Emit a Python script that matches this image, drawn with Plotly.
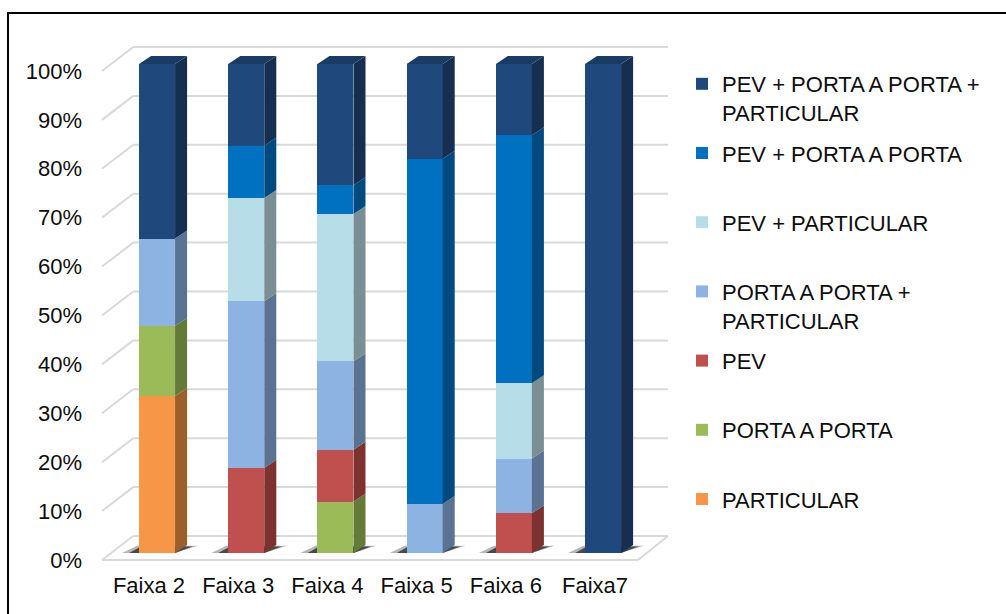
import plotly.graph_objects as go

# ---- data (percent of each band) ----
categories = ["Faixa 2", "Faixa 3", "Faixa 4", "Faixa 5", "Faixa 6", "Faixa7"]

particular = [32.1, 0, 0, 0, 0, 0]
porta_a_porta = [14.3, 0, 10.5, 0, 0, 0]
pev = [0, 17.4, 10.6, 0, 8.1, 0]
porta_particular = [17.9, 34.1, 18.1, 10.0, 11.2, 0]
pev_particular = [0, 21.1, 30.1, 0, 15.4, 0]
pev_porta = [0, 10.7, 5.9, 70.6, 50.7, 0]
pev_porta_particular = [35.7, 16.7, 24.8, 19.4, 14.6, 100]

y_ticks = [0, 10, 20, 30, 40, 50, 60, 70, 80, 90, 100]

# stacking order, bottom to top: (legend name, values, front colour, side colour)
series = [
    ("PARTICULAR", particular, "#F79646", "#9C5E2A"),
    ("PORTA A PORTA", porta_a_porta, "#9BBB59", "#647A38"),
    ("PEV", pev, "#C0504D", "#7D3230"),
    ("PORTA A PORTA +<br>PARTICULAR", porta_particular, "#8DB3E2", "#5A7393"),
    ("PEV + PARTICULAR", pev_particular, "#B7DEE8", "#7A8F94"),
    ("PEV + PORTA A PORTA", pev_porta, "#0070C0", "#004A80"),
    ("PEV + PORTA A PORTA +<br>PARTICULAR", pev_porta_particular, "#1F497D", "#162F51"),
]
TOP_FACE = "#1A3B63"

# ---- 3-D look parameters (axis units) ----
BAR_SHIFT = 0.09      # bars sit a little behind the front plane
BAR_W = 0.404         # width of the front face
DX, DY = 0.135, 1.64  # depth of each column (side/top faces)
WALL_DX, WALL_DY = 0.35, 4.9   # depth of the wall / floor
FRONT_DY = -1.43      # front plane sits slightly below the bar base
X_LEFT, X_RIGHT_BACK, X_RIGHT_FRONT = -0.527, 5.818, 5.482

FONT = "Liberation Sans, Arial, sans-serif"
TXT = "#0d0d0d"
FS = 22

fig = go.Figure()
n = len(categories)
xc = [i + BAR_SHIFT for i in range(n)]

# front faces (stacked bars); every legend entry gets two lines of text
for k, (name, vals, col, side) in enumerate(series):
    label = name if "<br>" in name else name + "<br> "
    fig.add_trace(go.Bar(
        x=xc, y=vals, width=BAR_W, name=label,
        marker=dict(color=col, line=dict(width=0)),
        legendgroup=f"g{k}", legendrank=len(series) - k, showlegend=True,
    ))

# side faces for every segment
base = [0.0] * n
for k, (name, vals, col, side) in enumerate(series):
    px, py = [], []
    for i in range(n):
        v = vals[i]
        if v <= 0:
            continue
        b, t = base[i], base[i] + v
        xr = xc[i] + BAR_W / 2
        px += [xr, xr + DX, xr + DX, xr, xr, None]
        py += [b, b + DY, t + DY, t, b, None]
        base[i] = t
    if px:
        fig.add_trace(go.Scatter(x=px, y=py, mode="lines", fill="toself", fillcolor=side,
                                 line=dict(width=0), hoverinfo="skip", showlegend=False,
                                 legendgroup=f"g{k}"))

# top faces
tx, ty = [], []
for i in range(n):
    xl, xr = xc[i] - BAR_W / 2, xc[i] + BAR_W / 2
    t = base[i]
    tx += [xl, xl + DX, xr + DX, xr, xl, None]
    ty += [t, t + DY, t + DY, t, t, None]
fig.add_trace(go.Scatter(x=tx, y=ty, mode="lines", fill="toself", fillcolor=TOP_FACE,
                         line=dict(width=0), hoverinfo="skip", showlegend=False))

# wall gridlines and floor outline
GRID = "#D9D9D9"
shapes = []
for v in y_ticks:
    shapes.append(dict(type="line", xref="x", yref="y", layer="below",
                       x0=X_LEFT, y0=v + FRONT_DY, x1=X_LEFT + WALL_DX, y1=v + FRONT_DY + WALL_DY,
                       line=dict(color=GRID, width=2)))
    shapes.append(dict(type="line", xref="x", yref="y", layer="below",
                       x0=X_LEFT + WALL_DX, y0=v + FRONT_DY + WALL_DY, x1=X_RIGHT_BACK,
                       y1=v + FRONT_DY + WALL_DY, line=dict(color=GRID, width=2)))
shapes.append(dict(type="line", xref="x", yref="y", layer="below",
                   x0=X_LEFT, y0=FRONT_DY, x1=X_RIGHT_FRONT, y1=FRONT_DY,
                   line=dict(color=GRID, width=2)))
shapes.append(dict(type="line", xref="x", yref="y", layer="below",
                   x0=X_RIGHT_FRONT, y0=FRONT_DY, x1=X_RIGHT_BACK, y1=FRONT_DY + WALL_DY,
                   line=dict(color=GRID, width=2)))

# soft floor shadows under each column (kept beneath the bars)
for i in range(n):
    xl, xr = xc[i] - BAR_W / 2, xc[i] + BAR_W / 2
    outer = [(xl - 0.19, 0), (xr, 0), (xr + DX + 0.12, DY * 0.9), (xl - 0.02, DY * 0.9)]
    inner = [(xl - 0.11, 0), (xr, 0), (xr + DX + 0.06, DY * 0.8), (xl + 0.02, DY * 0.8)]
    for pts, col in ((outer, "rgba(110,110,110,0.5)"), (inner, "rgba(45,45,45,0.8)")):
        path = "M " + " L ".join(f"{x},{y}" for x, y in pts) + " Z"
        shapes.append(dict(type="path", xref="x", yref="y", layer="below", path=path,
                           fillcolor=col, line=dict(width=0)))

# outer frame of the chart area
L, R, T, B = 88, 334, 40, 44
W, H = 1006, 614
pw, ph = W - L - R, H - T - B
shapes.append(dict(type="rect", xref="paper", yref="paper", layer="above",
                   x0=(8 - L) / pw, x1=1.8, y0=-0.3, y1=(H - B - 13) / ph,
                   line=dict(color="#000000", width=2), fillcolor="rgba(0,0,0,0)"))

fig.update_layout(
    width=W, height=H,
    margin=dict(l=L, r=R, t=T, b=B),
    paper_bgcolor="white", plot_bgcolor="white",
    barmode="stack", bargap=0,
    font=dict(family=FONT, size=FS, color=TXT),
    shapes=shapes,
    showlegend=True,
    legend=dict(
        x=(682 - L) / pw, xanchor="left",
        y=(H - B - 63) / ph, yanchor="top",
        traceorder="grouped", tracegroupgap=9, valign="top",
        font=dict(family=FONT, size=FS, color=TXT),
        bgcolor="rgba(0,0,0,0)", borderwidth=0,
    ),
    xaxis=dict(
        range=[-0.684, 5.863], tickmode="array",
        tickvals=list(range(n)), ticktext=categories,
        showgrid=False, zeroline=False, showline=False, ticks="",
        tickfont=dict(family=FONT, size=FS, color=TXT),
    ),
    yaxis=dict(
        range=[-3.48, 104.9], tickmode="array",
        tickvals=[v + FRONT_DY for v in y_ticks], ticktext=[f"{v}%" for v in y_ticks],
        showgrid=False, zeroline=False, showline=False, ticks="",
        ticklabelstandoff=5,
        tickfont=dict(family=FONT, size=FS, color=TXT),
    ),
)

fig.write_html("out.html")
